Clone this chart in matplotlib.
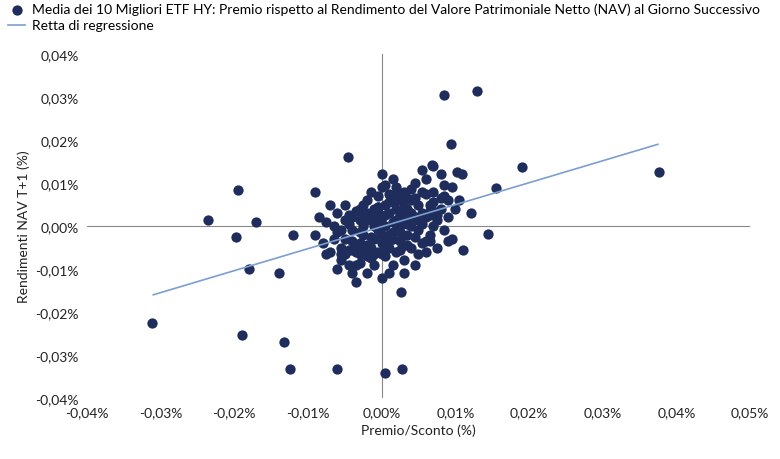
import matplotlib.pyplot as plt
import numpy as np

plt.rcParams['font.family'] = ['Lato', 'DejaVu Sans']

# premium/discount (%) and next-day NAV return (%)
prem = [0.0377, -0.0312, 0.0129, 0.0085, 0.019, 0.0155, 0.0094, -0.0195, -0.0236, -0.0198,
        -0.0171, -0.018, -0.0189, -0.0133, -0.0125, -0.006, 0.0005, 0.0028, 0.0026, -0.0046,
        -0.014, -0.012, -0.0091, 0.0144, 0.011, 0.0109, 0.0068, 0.0102, 0.0121,
        -0.008, -0.007, -0.0065, -0.006, -0.0055, -0.005, -0.005, -0.0045, -0.004, -0.004,
        -0.0035, -0.0035, -0.003, -0.003, -0.003, -0.0025, -0.0025, -0.002, -0.002, -0.002,
        -0.0015, -0.0015, -0.001, -0.001, -0.001, -0.001, -0.0005, -0.0005, -0.0005, 0.0,
        0.0, 0.0, 0.0, 0.0005, 0.0005, 0.0005, 0.001, 0.001, 0.001, 0.001,
        0.0015, 0.0015, 0.0015, 0.002, 0.002, 0.002, 0.0025, 0.0025, 0.0025, 0.003,
        0.003, 0.003, 0.0035, 0.0035, 0.004, 0.004, 0.004, 0.0045, 0.0045, 0.005,
        0.005, 0.0055, 0.0055, 0.006, 0.006, 0.0065, 0.0065, 0.007, 0.007, 0.0075,
        0.008, 0.008, 0.0085, 0.009, 0.009, 0.0095, 0.01, -0.006, -0.0075, -0.0085,
        -0.009, -0.004, 0.0, 0.002, -0.0015, 0.001, 0.003, 0.0045, -0.007, 0.0055,
        0.007, -0.0025, 0.0015, -0.0005, 0.0025, 0.0035, -0.003, 0.0005, -0.0045, 0.0,
        0.0015, -0.002, 0.004, 0.0065, -0.0055, 0.006, 0.0085, -0.0035, 0.0005, 0.0095, 0.0105,
        -0.0065, -0.006, -0.0055, -0.005, -0.0045, -0.004, -0.0035, -0.003, -0.0025, -0.002,
        -0.0015, -0.001, -0.0005, 0.0, 0.0005, 0.001, 0.0015, 0.002, 0.0025, 0.003,
        0.0035, 0.004, 0.0045, 0.005, 0.0055, 0.006, 0.0065, 0.007, 0.0075, 0.008,
        -0.0055, -0.0045, -0.0035, -0.0025, -0.0015, -0.0005, 0.0005, 0.0015, 0.0025, 0.0035,
        0.0045, 0.0055, 0.0065, 0.0075, -0.005, -0.004, -0.003, -0.002, -0.001, 0.0,
        0.001, 0.002, 0.003, 0.004, 0.005, 0.006, 0.007, -0.0075, 0.0085, 0.009]
nav = [0.0126, -0.0226, 0.0314, 0.0305, 0.0137, 0.0088, 0.019, 0.0084, 0.0014, -0.0026,
       0.0009, -0.01, -0.0254, -0.027, -0.0333, -0.0333, -0.0342, -0.0333, -0.0153, 0.016,
       -0.011, -0.002, 0.0079, -0.0019, -0.0056, 0.0121, 0.0142, 0.0126, 0.003,
       -0.004, -0.006, 0.0, 0.003, -0.008, -0.003, 0.005, -0.009, -0.001, 0.002,
       -0.006, -0.013, 0.004, -0.004, -0.0085, 0.0, -0.002, 0.006, -0.007, -0.011,
       0.002, -0.005, 0.0, -0.003, 0.004, -0.009, 0.007, -0.001, -0.006, 0.002,
       -0.004, 0.009, -0.012, 0.0, 0.005, -0.007, 0.003, -0.002, 0.0075, -0.005,
       0.001, -0.009, 0.011, 0.004, -0.001, -0.006, 0.006, 0.0, -0.0035, 0.002,
       0.008, -0.008, 0.004, -0.002, 0.0, 0.006, -0.005, 0.01, 0.002, -0.001,
       0.005, 0.008, -0.004, 0.002, 0.011, 0.005, -0.002, 0.008, 0.0, -0.005,
       0.004, 0.012, -0.001, 0.006, 0.002, 0.009, 0.004, -0.01, 0.001, 0.002,
       -0.002, -0.011, 0.012, 0.009, 0.008, -0.011, -0.011, -0.009, 0.005, 0.013,
       0.014, 0.005, 0.0055, 0.003, 0.0025, 0.0065, -0.0015, -0.0025, 0.0005, 0.0005,
       -0.003, 0.0015, 0.003, 0.0025, -0.005, -0.006, 0.007, 0.0035, 0.0095, -0.003, 0.006,
       -0.003, -0.0015, -0.0065, 0.0015, -0.0055, -0.0035, -0.009, 0.0015, -0.0055, 0.003,
       -0.0025, 0.0015, 0.0045, -0.002, 0.0025, 0.0055, -0.0015, 0.0015, -0.0015, 0.0045,
       0.0005, 0.0015, 0.0065, 0.0015, 0.003, 0.0075, 0.0035, 0.0055, 0.0015, 0.0065,
       -0.001, 0.0025, -0.0045, 0.0025, -0.0075, 0.0045, -0.0045, 0.007, -0.0055, -0.0045,
       -0.0025, 0.0005, -0.0035, 0.0025, -0.0065, -0.0055, -0.0065, -0.0045, -0.0065, -0.0065,
       -0.0035, 0.0075, -0.0045, 0.0085, -0.0065, -0.0035, 0.0035, -0.0065, 0.0095, -0.0035]

reg_slope = 0.511
reg_intercept = -0.00016
reg_x = [-0.031, 0.0375]

x_ticks = [-0.04, -0.03, -0.02, -0.01, 0.0, 0.01, 0.02, 0.03, 0.04, 0.05]
x_labels = ["-0,04%", "-0,03%", "-0,02%", "-0,01%", "0,00%", "0,01%", "0,02%", "0,03%", "0,04%", "0,05%"]
y_ticks = [-0.04, -0.03, -0.02, -0.01, 0.0, 0.01, 0.02, 0.03, 0.04]
y_labels = ["-0,04%", "-0,03%", "-0,02%", "-0,01%", "0,00%", "0,01%", "0,02%", "0,03%", "0,04%"]

navy = "#1f2d5c"
light = "#7a9fd0"

fig = plt.figure(figsize=(7.8, 4.6), dpi=100)
ax = fig.add_axes([87 / 780, 1 - 399 / 460, (750 - 87) / 780, (399 - 55) / 460])

ax.axhline(0, color="#888888", lw=0.8, zorder=1)
ax.axvline(0, color="#888888", lw=0.8, zorder=1)
ax.scatter(prem, nav, s=55, color=navy, zorder=3, linewidths=0,
           label="Media dei 10 Migliori ETF HY: Premio rispetto al Rendimento del Valore Patrimoniale Netto (NAV) al Giorno Successivo")
rx = np.array(reg_x)
ax.plot(rx, reg_slope * rx + reg_intercept, color=light, lw=1.2, zorder=4, label="Retta di regressione")

ax.set_xlim(-0.04, 0.05)
ax.set_ylim(-0.04, 0.04)
ax.set_xticks(x_ticks)
ax.set_xticklabels(x_labels)
ax.set_yticks(y_ticks)
ax.set_yticklabels(y_labels)
ax.tick_params(length=0, labelsize=10, colors="#222222", pad=6)
for s in ax.spines.values():
    s.set_visible(False)
ax.set_xlabel("Premio/Sconto (%)", fontsize=10, color="#222222")
ax.set_ylabel("Rendimenti NAV T+1 (%)", fontsize=10, color="#222222")

fig.legend(loc="upper left", bbox_to_anchor=(0.0, 1.01), frameon=False, fontsize=10,
           handlelength=1.2, handletextpad=0.5, labelspacing=0.3, borderaxespad=0.2)

fig.savefig("out.png", dpi=100)
